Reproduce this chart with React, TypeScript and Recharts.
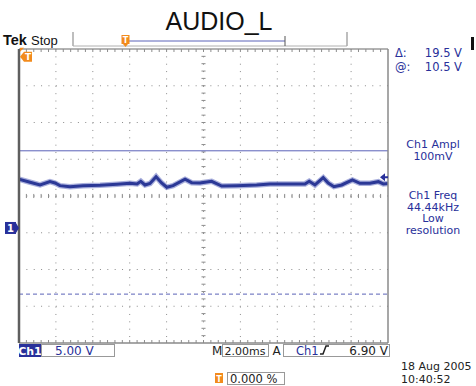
import { LineChart, Line, XAxis, YAxis, CartesianGrid, ReferenceLine, ReferenceDot } from 'recharts'

// scope settings: 2.00 ms/div, 5.00 V/div, ground marker below screen centre
const timeTicks = [0, 2, 4, 6, 8, 10, 12, 14, 16, 18, 20]
const voltTicks = [-15.65, -10.65, -5.65, -0.65, 4.35, 9.35, 14.35, 19.35, 24.35]
const timeMinor = Array.from({ length: 49 }, (_, i) => +((i + 1) * 0.4).toFixed(2))
const voltMinor = Array.from({ length: 39 }, (_, i) => +(-15.65 + (i + 1)).toFixed(2))

// Ch1 trace (ms, V)
const traceTime = [0, 0.6, 1.14, 1.68, 1.95, 2.22, 2.76, 3.47, 4.39, 5.31, 6.02, 6.4, 6.6, 6.83, 7.1, 7.43, 7.73, 8.01, 8.35, 9.0, 9.36, 9.81, 10.44, 10.99, 11.8, 12.88, 13.6, 14.69, 15.5, 15.73, 16.04, 16.49, 16.76, 17.07, 17.49, 18.07, 18.48, 19.02, 19.48, 19.75, 20]
const traceVolt = [6.63, 6.22, 5.85, 6.3, 6.12, 5.76, 5.62, 5.76, 5.81, 5.95, 6.08, 5.99, 6.35, 5.85, 6.05, 6.98, 6.12, 5.54, 5.76, 6.63, 6.16, 6.12, 6.35, 5.71, 5.76, 5.85, 5.99, 5.99, 5.99, 6.35, 5.85, 6.84, 6.12, 5.62, 5.85, 6.53, 6.08, 6.08, 6.3, 5.99, 6.05]

const cursorA = 10.5
const cursorB = -9.0
const triggerLevel = 6.9
const screenCentreV = 4.35
const screenCentreT = 10

const data = traceTime.map((t, i) => ({ t, v: traceVolt[i] }))

const BLUE = '#28309a'
const TRACE = '#2b3896'
const ORANGE = '#f28b1d'
const GRID = '#8c8c8c'
const FONT = '"DejaVu Sans", Verdana, sans-serif'

const GroundMarker = ({ cx, cy }: any) => (
  <g>
    <rect x={cx - 14} y={cy - 6} width={11} height={12} fill={BLUE} />
    <polygon points={`${cx - 3},${cy - 5} ${cx},${cy} ${cx - 3},${cy + 5}`} fill={BLUE} />
    <text x={cx - 8.5} y={cy + 4} fill="#fff" fontSize={10} fontWeight={700} fontFamily={FONT} textAnchor="middle">1</text>
  </g>
)

const TrigPosMarker = ({ cx, cy }: any) => (
  <g>
    <polygon points={`${cx + 1},${cy - 9} ${cx + 5},${cy - 9} ${cx + 1},${cy - 5}`} fill={ORANGE} />
    <polygon points={`${cx + 1},${cy} ${cx + 5},${cy - 5} ${cx + 13},${cy - 5} ${cx + 13},${cy + 5} ${cx + 5},${cy + 5}`} fill={ORANGE} />
    <text x={cx + 9} y={cy + 3.5} fill="#fff" fontSize={9} fontWeight={700} fontFamily={FONT} textAnchor="middle">T</text>
  </g>
)

const TrigLevelMarker = ({ cx, cy }: any) => (
  <g>
    <polygon points={`${cx - 8},${cy} ${cx - 3},${cy - 4} ${cx - 3},${cy + 4}`} fill={BLUE} />
    <line x1={cx - 3} y1={cy} x2={cx} y2={cy} stroke={BLUE} strokeWidth={2} />
  </g>
)

export default function App() {
  const tick = { stroke: GRID, strokeWidth: 1 }
  return (
    <div style={{ position: 'absolute', left: 0, top: 0, width: 476, height: 386, background: '#fff' }}>
      <LineChart width={476} height={386} data={data} margin={{ top: 49, right: 88, bottom: 43, left: 19 }}>
        <XAxis xAxisId={0} dataKey="t" type="number" domain={[0, 20]} ticks={timeTicks} hide allowDataOverflow />
        <YAxis yAxisId={0} type="number" domain={[-15.65, 24.35]} ticks={voltTicks} hide allowDataOverflow />
        <XAxis xAxisId="b" dataKey="t" type="number" domain={[0, 20]} ticks={timeMinor} mirror tickSize={3}
          axisLine={{ stroke: '#8a8a8a', strokeWidth: 1.5 }} tickLine={tick} tickFormatter={() => ''} />
        <XAxis xAxisId="top" orientation="top" dataKey="t" type="number" domain={[0, 20]} ticks={timeMinor} mirror tickSize={3}
          axisLine={{ stroke: '#9a9a9a', strokeWidth: 1.5 }} tickLine={tick} tickFormatter={() => ''} />
        <YAxis yAxisId="l" type="number" domain={[-15.65, 24.35]} ticks={voltMinor} mirror tickSize={3}
          axisLine={{ stroke: '#5f5f5f', strokeWidth: 2.5 }} tickLine={tick} tickFormatter={() => ''} />
        <YAxis yAxisId="r" orientation="right" type="number" domain={[-15.65, 24.35]} ticks={voltMinor} mirror tickSize={3}
          axisLine={{ stroke: '#8a8a8a', strokeWidth: 1.5 }} tickLine={tick} tickFormatter={() => ''} />
        <CartesianGrid stroke={GRID} strokeDasharray="1 6.36" horizontalValues={voltTicks.slice(1, -1)} verticalValues={timeTicks.slice(1, -1)} />
        {timeMinor.map(t => (
          <ReferenceLine key={'ct' + t} segment={[{ x: t, y: screenCentreV - 0.28 }, { x: t, y: screenCentreV + 0.28 }]} stroke={GRID} />
        ))}
        {voltMinor.map(v => (
          <ReferenceLine key={'cv' + v} segment={[{ x: screenCentreT - 0.11, y: v }, { x: screenCentreT + 0.11, y: v }]} stroke={GRID} />
        ))}
        <ReferenceLine y={cursorA} stroke="#5a62b8" strokeWidth={1} />
        <ReferenceLine y={cursorB} stroke="#5a62b8" strokeWidth={1} strokeDasharray="4 3" />
        <Line dataKey="v" type="linear" stroke="#6f7ac4" strokeWidth={5.5} strokeOpacity={0.6} dot={false} isAnimationActive={false} />
        <Line dataKey="v" type="linear" stroke={TRACE} strokeWidth={3} dot={false} isAnimationActive={false} />
        <ReferenceDot x={0} y={0} r={0} shape={GroundMarker} />
        <ReferenceDot x={0} y={23.3} r={0} shape={TrigPosMarker} />
        <ReferenceDot x={20} y={triggerLevel} r={0} shape={TrigLevelMarker} />
      </LineChart>

      <svg width={476} height={386} style={{ position: 'absolute', left: 0, top: 0, pointerEvents: 'none' }}>
        <text x={219} y={30} textAnchor="middle" fontFamily='"Liberation Sans", Arial, sans-serif' fontSize={25} fill="#111">AUDIO_L</text>

        <text x={3} y={45} fontFamily='"Liberation Sans", Arial, sans-serif' fontWeight={700} fontSize={14.5} fill="#111">Tek</text>
        <text x={31} y={45} fontFamily='"Liberation Sans", Arial, sans-serif' fontSize={13} fill="#111">Stop</text>

        {/* record bar */}
        <line x1={73} y1={32} x2={73} y2={46} stroke="#a8a8a8" strokeWidth={1.5} />
        <line x1={73} y1={46} x2={347} y2={46} stroke="#b0b0b0" strokeWidth={1} />
        <line x1={347} y1={32} x2={347} y2={46} stroke="#a8a8a8" strokeWidth={1.5} />
        <line x1={128} y1={41} x2={285} y2={41} stroke="#5a62b8" strokeWidth={1} />
        <line x1={285} y1={36} x2={285} y2={46} stroke="#555" strokeWidth={1} />
        <rect x={121.5} y={35} width={8} height={9} fill={ORANGE} />
        <polygon points="123,44 128,44 125.5,47" fill={ORANGE} />
        <text x={125.5} y={42.5} textAnchor="middle" fontFamily={FONT} fontSize={8} fontWeight={700} fill="#fff">T</text>
        <rect x={471} y={37} width={3} height={13} fill="#111" />

        <g fontFamily={FONT} fontSize={11.5} fill={BLUE}>
          <text x={395} y={57}>Δ:</text>
          <text x={462} y={57} textAnchor="end">19.5 V</text>
          <text x={395} y={71}>@:</text>
          <text x={462} y={71} textAnchor="end">10.5 V</text>
        </g>

        <g fontFamily={FONT} fontSize={11} fill={BLUE} textAnchor="middle">
          <text x={433} y={148}>Ch1 Ampl</text>
          <text x={433} y={159.5}>100mV</text>
          <text x={433} y={199}>Ch1 Freq</text>
          <text x={433} y={210.5}>44.44kHz</text>
          <text x={433} y={222}>Low</text>
          <text x={433} y={233.5}>resolution</text>
        </g>

        {/* bottom status line */}
        <rect x={19} y={344} width={22} height={13} fill={BLUE} />
        <text x={30} y={355} textAnchor="middle" fontFamily={FONT} fontSize={11} fontWeight={700} fill="#fff">Ch1</text>
        <rect x={41.5} y={344.5} width={73} height={12} fill="none" stroke="#999" />
        <text x={55} y={355} fontFamily={FONT} fontSize={12} fill={BLUE}>5.00 V</text>

        <text x={212} y={355} fontFamily={FONT} fontSize={12} fill="#222">M</text>
        <rect x={222.5} y={344.5} width={46} height={12} fill="none" stroke="#999" />
        <text x={224.5} y={355} fontFamily={FONT} fontSize={11} fill="#222">2.00ms</text>

        <text x={272.5} y={355} fontFamily={FONT} fontSize={12} fill="#222">A</text>
        <rect x={283.5} y={344.5} width={106} height={12} fill="none" stroke="#999" />
        <text x={296} y={355} fontFamily={FONT} fontSize={11.5} fill={BLUE}>Ch1</text>
        <path d="M320,354 L323,354 L326,346 L329,346" fill="none" stroke="#222" strokeWidth={1.5} />
        <text x={388} y={355} textAnchor="end" fontFamily={FONT} fontSize={12} fill="#222">6.90 V</text>

        <rect x={215} y={373} width={8} height={10} fill={ORANGE} />
        <text x={219} y={381.5} textAnchor="middle" fontFamily={FONT} fontSize={8} fontWeight={700} fill="#fff">T</text>
        <rect x={227.5} y={372.5} width={57} height={12} fill="none" stroke="#999" />
        <text x={230} y={383} fontFamily={FONT} fontSize={11.5} fill="#222">0.000 %</text>

        <text x={401} y={369.5} fontFamily={FONT} fontSize={11} fill="#222">18 Aug 2005</text>
        <text x={401} y={383} fontFamily={FONT} fontSize={11} fill="#222">10:40:52</text>
      </svg>
    </div>
  )
}
